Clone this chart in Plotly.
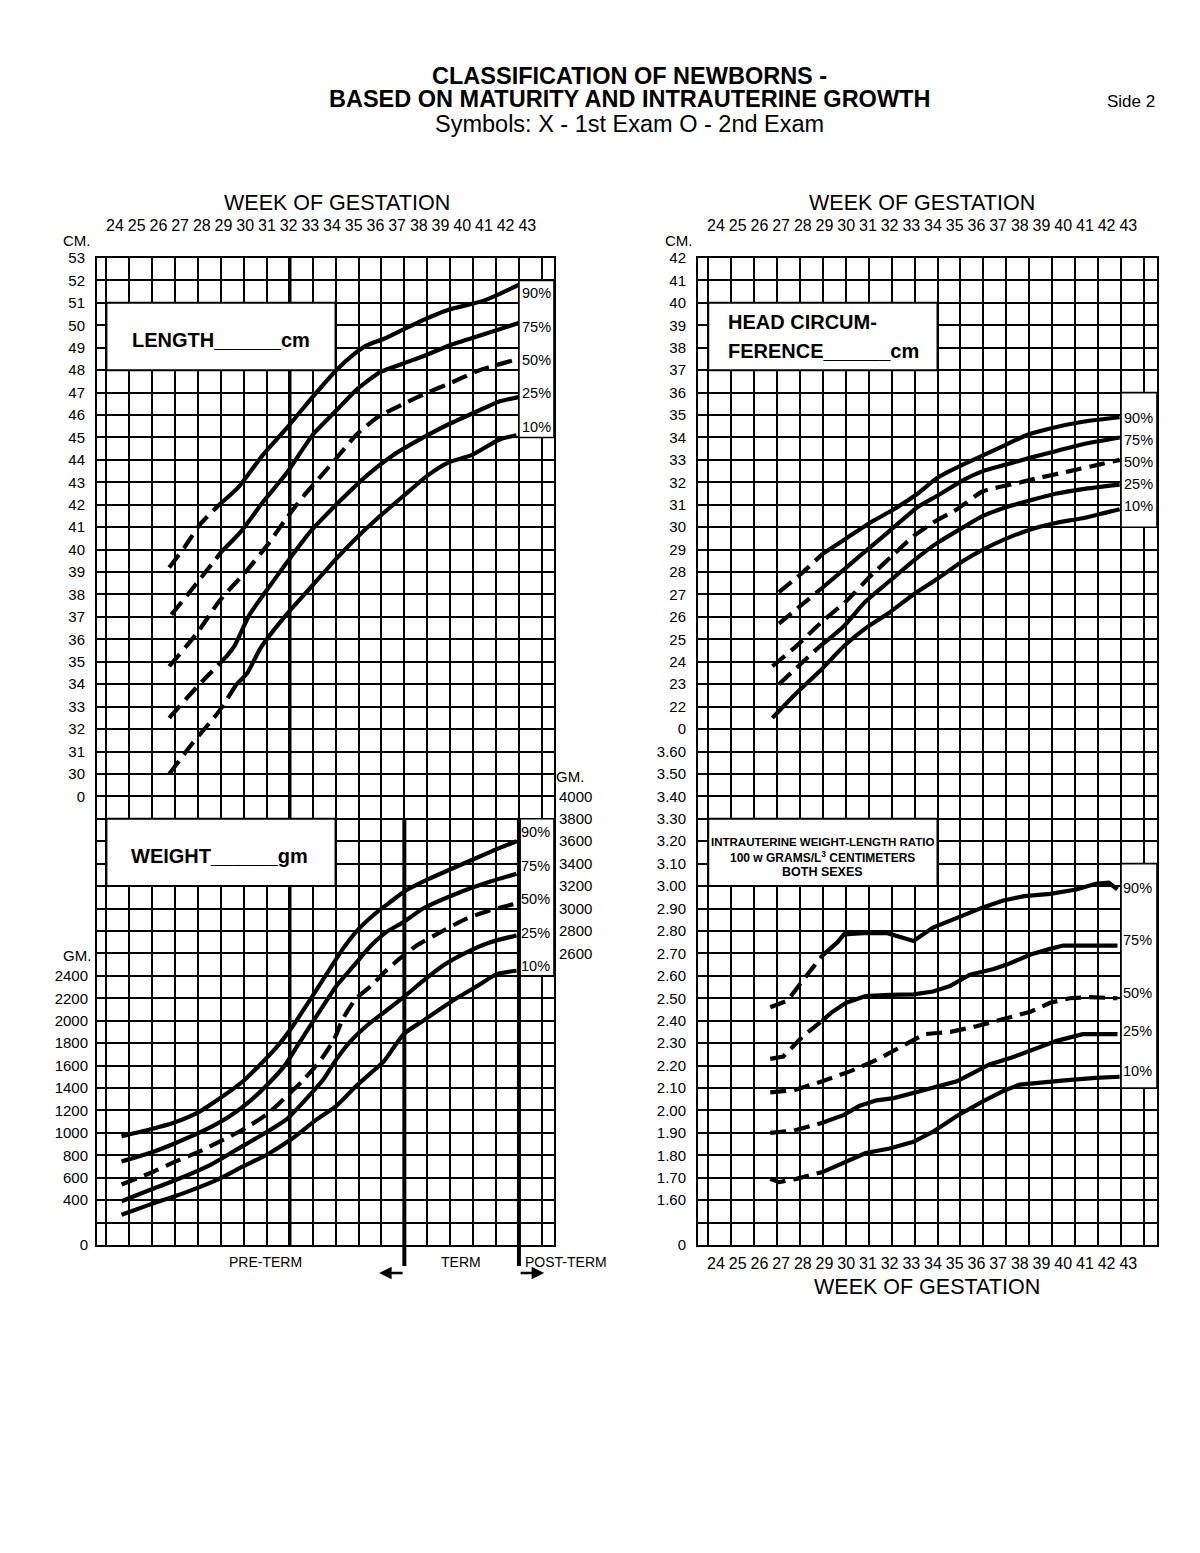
import plotly.graph_objects as go

# ---------------- data ----------------
WEEKS = [24, 25, 26, 27, 28, 29, 30, 31, 32, 33, 34, 35, 36, 37, 38, 39, 40, 41, 42, 43]

# Length (cm) - weeks / values
LEN_90_WK = [26.5, 27.2, 27.9, 28.8, 29.7, 30.8, 31.9, 33.1, 34.2, 35.0, 35.6, 36.4, 37.9, 39.4, 41.0, 42.6]
LEN_90 = [39.2, 40.1, 41.1, 42.0, 42.8, 44.2, 45.4, 46.8, 48.0, 48.7, 49.1, 49.4, 50.1, 50.7, 51.1, 51.8]
LEN_75_WK = [26.6, 27.6, 28.9, 29.8, 30.8, 31.9, 33.1, 34.2, 35.1, 36.2, 37.3, 38.4, 39.4, 41.0, 42.6]
LEN_75 = [37.1, 38.3, 39.9, 40.8, 42.1, 43.4, 45.1, 46.2, 47.1, 47.9, 48.3, 48.7, 49.1, 49.6, 50.1]
LEN_50_WK = [26.5, 27.8, 28.8, 30.1, 31.1, 31.9, 32.7, 33.6, 34.4, 35.1, 36.1, 37.3, 38.4, 39.4, 40.8, 42.6]
LEN_50 = [34.8, 36.3, 37.7, 39.1, 40.3, 41.4, 42.4, 43.4, 44.3, 45.1, 45.9, 46.5, 47.0, 47.4, 48.0, 48.5]
LEN_25_WK = [26.5, 27.8, 29.1, 29.5, 30.2, 31.0, 31.9, 33.0, 34.4, 35.6, 36.8, 38.4, 39.4, 41.0, 41.7, 42.6]
LEN_25 = [32.5, 33.9, 35.2, 35.7, 37.1, 38.2, 39.4, 40.8, 42.2, 43.3, 44.2, 45.1, 45.6, 46.3, 46.6, 46.8]
LEN_10_WK = [26.5, 27.6, 28.8, 29.6, 30.1, 30.7, 31.9, 33.1, 34.2, 35.1, 36.1, 37.3, 38.4, 39.4, 40.4, 41.7, 42.5]
LEN_10 = [30.0, 31.4, 32.8, 34.0, 34.5, 35.6, 37.1, 38.4, 39.6, 40.5, 41.4, 42.4, 43.3, 43.9, 44.2, 44.9, 45.1]

# Weight (gm)
WT_90_WK = [24.3, 25.6, 26.7, 27.9, 29.0, 29.9, 30.8, 31.5, 32.1, 32.7, 33.3, 33.9, 34.5, 35.1, 35.9, 36.7, 37.4, 38.2, 39.7, 41.3, 42.5]
WT_90 = [970, 1030, 1090, 1190, 1330, 1460, 1630, 1775, 1925, 2100, 2280, 2460, 2640, 2790, 2940, 3060, 3160, 3240, 3370, 3505, 3600]
WT_75_WK = [24.3, 25.6, 26.8, 28.2, 29.3, 30.2, 31.1, 31.8, 32.4, 33.0, 33.6, 34.2, 35.0, 35.8, 36.5, 37.3, 38.2, 39.7, 41.3, 42.5]
WT_75 = [745, 820, 910, 1030, 1150, 1280, 1445, 1595, 1775, 1955, 2135, 2310, 2490, 2670, 2790, 2880, 3000, 3130, 3240, 3310]
WT_50_WK = [24.3, 25.6, 26.8, 27.9, 29.0, 29.9, 31.0, 31.9, 32.7, 33.5, 34.1, 34.5, 35.1, 35.8, 36.4, 37.1, 37.9, 39.0, 40.2, 41.3, 42.5]
WT_50 = [540, 640, 745, 835, 940, 1030, 1165, 1325, 1475, 1655, 1835, 2015, 2195, 2310, 2430, 2550, 2670, 2790, 2910, 2985, 3045]
WT_25_WK = [24.3, 25.6, 27.0, 28.4, 29.6, 30.8, 31.9, 32.8, 33.6, 34.2, 34.8, 35.6, 36.4, 37.3, 38.2, 39.1, 40.2, 41.3, 42.5]
WT_25 = [390, 490, 595, 715, 850, 985, 1120, 1300, 1475, 1655, 1805, 1955, 2075, 2210, 2355, 2490, 2610, 2700, 2760]
WT_10_WK = [24.3, 25.6, 27.2, 28.7, 29.9, 31.0, 32.1, 33.3, 34.2, 35.1, 35.8, 36.4, 37.3, 38.2, 39.7, 40.7, 41.6, 42.5]
WT_10 = [270, 360, 465, 580, 700, 805, 940, 1120, 1240, 1415, 1535, 1640, 1880, 2000, 2195, 2310, 2415, 2445]

# Head circumference (cm)
HC_90_WK = [26.9, 27.9, 28.9, 30.0, 31.1, 32.2, 33.3, 34.2, 35.4, 36.3, 37.2, 38.3, 39.4, 40.9, 42.6]
HC_90 = [27.1, 27.9, 28.8, 29.5, 30.2, 30.8, 31.5, 32.2, 32.8, 33.2, 33.6, 34.1, 34.4, 34.7, 34.9]
HC_75_WK = [26.9, 27.9, 28.9, 30.0, 31.1, 32.2, 33.3, 34.2, 35.4, 36.3, 37.4, 38.5, 39.7, 40.9, 42.6]
HC_75 = [25.7, 26.5, 27.3, 28.2, 29.1, 30.0, 30.9, 31.4, 32.1, 32.5, 32.8, 33.1, 33.4, 33.7, 34.0]
HC_50_WK = [26.6, 27.7, 28.9, 30.0, 31.1, 32.2, 33.1, 34.0, 35.1, 36.3, 37.6, 38.9, 40.3, 41.7, 42.6]
HC_50 = [23.8, 24.7, 25.8, 26.7, 27.8, 28.8, 29.6, 30.2, 30.8, 31.6, 31.9, 32.2, 32.5, 32.8, 33.0]
HC_25_WK = [26.9, 27.9, 28.8, 29.9, 30.9, 32.0, 33.1, 34.2, 35.4, 36.3, 37.4, 38.5, 39.7, 40.9, 42.6]
HC_25 = [23.0, 23.9, 24.7, 25.6, 26.7, 27.6, 28.5, 29.3, 30.0, 30.5, 30.9, 31.2, 31.5, 31.7, 31.9]
HC_10_WK = [26.6, 27.7, 28.8, 29.9, 30.9, 32.0, 33.1, 34.2, 35.4, 36.3, 37.4, 38.5, 39.7, 40.9, 42.6]
HC_10 = [21.5, 22.6, 23.6, 24.7, 25.5, 26.2, 27.0, 27.7, 28.5, 29.0, 29.5, 29.9, 30.2, 30.4, 30.8]

# Weight-length ratio (100 w / L^3)
R_90_WK = [26.5, 27.3, 28.0, 28.9, 29.6, 29.9, 30.8, 31.9, 33.1, 34.0, 35.1, 36.3, 37.2, 38.2, 39.4, 40.6, 41.5, 42.1, 42.5]
R_90 = [2.46, 2.49, 2.58, 2.69, 2.75, 2.785, 2.79, 2.79, 2.755, 2.815, 2.86, 2.905, 2.935, 2.955, 2.965, 2.985, 3.01, 3.015, 2.985]
R_75_WK = [26.5, 27.1, 28.0, 28.9, 29.3, 30.0, 30.9, 32.0, 33.1, 34.0, 34.8, 35.7, 36.8, 37.4, 38.5, 39.4, 40.0, 40.9, 42.5]
R_75 = [2.23, 2.24, 2.33, 2.40, 2.435, 2.48, 2.51, 2.515, 2.517, 2.53, 2.555, 2.605, 2.63, 2.65, 2.695, 2.72, 2.735, 2.735, 2.735]
R_50_WK = [26.5, 27.6, 28.9, 30.2, 31.4, 32.5, 33.6, 34.2, 34.8, 36.0, 37.2, 38.5, 39.4, 40.3, 41.2, 42.5]
R_50 = [2.08, 2.09, 2.13, 2.175, 2.225, 2.28, 2.34, 2.345, 2.35, 2.375, 2.405, 2.44, 2.48, 2.50, 2.505, 2.50]
R_25_WK = [26.5, 27.6, 28.9, 29.9, 30.6, 31.4, 32.2, 33.3, 34.2, 35.1, 35.7, 36.6, 37.6, 38.6, 39.7, 40.9, 42.5]
R_25 = [1.90, 1.91, 1.945, 1.98, 2.02, 2.045, 2.055, 2.085, 2.105, 2.13, 2.16, 2.205, 2.235, 2.27, 2.31, 2.34, 2.34]
R_10_WK = [26.5, 26.9, 27.7, 28.9, 29.9, 30.9, 32.0, 33.1, 34.0, 35.1, 36.3, 37.2, 38.0, 38.9, 40.2, 41.5, 42.6]
R_10 = [1.695, 1.68, 1.695, 1.725, 1.77, 1.81, 1.83, 1.86, 1.905, 1.975, 2.04, 2.085, 2.115, 2.125, 2.135, 2.145, 2.15]

PCT_LABELS = ["90%", "75%", "50%", "25%", "10%"]

# axis tick labels
LEN_TICKS = [29, 30, 31, 32, 33, 34, 35, 36, 37, 38, 39, 40, 41, 42, 43, 44, 45, 46, 47, 48, 49, 50, 51, 52, 53]
LEN_TEXT = ["0"] + [str(v) for v in LEN_TICKS[1:]]
WT_LEFT_TICKS = [0, 400, 600, 800, 1000, 1200, 1400, 1600, 1800, 2000, 2200, 2400]
WT_LEFT_TEXT = ["0", "400", "600", "800", "1000", "1200", "1400", "1600", "1800", "2000", "2200", "2400"]
WT_RIGHT_TICKS = [2600, 2800, 3000, 3200, 3400, 3600, 3800, 4000]
WT_RIGHT_TEXT = ["2600", "2800", "3000", "3200", "3400", "3600", "3800", "4000"]
HC_TICKS = [22, 23, 24, 25, 26, 27, 28, 29, 30, 31, 32, 33, 34, 35, 36, 37, 38, 39, 40, 41, 42]
HC_TEXT = [str(v) for v in HC_TICKS]
R_TICKS = [1.4, 1.6, 1.7, 1.8, 1.9, 2.0, 2.1, 2.2, 2.3, 2.4, 2.5, 2.6, 2.7, 2.8, 2.9, 3.0,
           3.1, 3.2, 3.3, 3.4, 3.5, 3.6, 3.7]
R_TEXT = ["0", "1.60", "1.70", "1.80", "1.90", "2.00", "2.10", "2.20", "2.30", "2.40", "2.50",
          "2.60", "2.70", "2.80", "2.90", "3.00", "3.10", "3.20", "3.30", "3.40", "3.50", "3.60", "0"]

# grid column index of the term / post-term divider lines
TERM_COL = 13
POSTTERM_COL = 18

# ---------------- layout helpers ----------------
W, H = 1200, 1553
FONT = "Arial, 'Liberation Sans', Helvetica, sans-serif"
INK = "black"


def px(x):
    return x / W


def py(y):
    return 1 - y / H


Y_DOM = [py(1245), py(258)]
L_DOM = [px(97), px(554)]
R_DOM = [px(698), px(1157)]

fig = go.Figure()


def add_curve(wk, vals, solid_from, xa, ya, spline=True):
    shape = "spline" if spline else "linear"
    if solid_from is None:
        segs = [(wk, vals, "16px,8px")]
    elif solid_from == 0:
        segs = [(wk, vals, "solid")]
    else:
        segs = [(wk[:solid_from + 1], vals[:solid_from + 1], "16px,8px"),
                (wk[solid_from:], vals[solid_from:], "solid")]
    for sx, sy, dash in segs:
        fig.add_trace(go.Scatter(
            x=sx, y=sy, xaxis=xa, yaxis=ya, mode="lines",
            line=dict(color=INK, width=4.2, dash=dash, shape=shape, smoothing=0.6),
            hoverinfo="skip", showlegend=False))


# length (x3 weeks, y3 length)
add_curve(LEN_90_WK, LEN_90, 3, "x3", "y3")
add_curve(LEN_75_WK, LEN_75, 2, "x3", "y3")
add_curve(LEN_50_WK, LEN_50, None, "x3", "y3")
add_curve(LEN_25_WK, LEN_25, 2, "x3", "y3")
add_curve(LEN_10_WK, LEN_10, 3, "x3", "y3")
# weight (x3 weeks, y2 weight)
add_curve(WT_90_WK, WT_90, 0, "x3", "y2")
add_curve(WT_75_WK, WT_75, 0, "x3", "y2")
add_curve(WT_50_WK, WT_50, None, "x3", "y2")
add_curve(WT_25_WK, WT_25, 0, "x3", "y2")
add_curve(WT_10_WK, WT_10, 0, "x3", "y2")
# head circumference (x4 weeks on top, y7 cm)
add_curve(HC_90_WK, HC_90, 2, "x4", "y7")
add_curve(HC_75_WK, HC_75, 2, "x4", "y7")
add_curve(HC_50_WK, HC_50, None, "x4", "y7")
add_curve(HC_25_WK, HC_25, 2, "x4", "y7")
add_curve(HC_10_WK, HC_10, 0, "x4", "y7")
# ratio (x5 weeks at bottom, y6 ratio)
add_curve(R_90_WK, R_90, 3, "x5", "y6", spline=False)
add_curve(R_75_WK, R_75, 3, "x5", "y6", spline=False)
add_curve(R_50_WK, R_50, None, "x5", "y6", spline=False)
add_curve(R_25_WK, R_25, 2, "x5", "y6", spline=False)
add_curve(R_10_WK, R_10, 3, "x5", "y6", spline=False)
# empty trace so that the right-hand gram scale gets its subplot
fig.add_trace(go.Scatter(x=[], y=[], xaxis="x3", yaxis="y4", mode="lines",
                         hoverinfo="skip", showlegend=False))

grid_axis = dict(showgrid=True, gridcolor=INK, gridwidth=1.6, zeroline=False,
                 showticklabels=False, ticks="", showline=True, linecolor=INK,
                 linewidth=2, mirror=True, tick0=0, dtick=1, fixedrange=True,
                 automargin=False)
label_font = dict(family=FONT, size=15, color=INK)
week_font = dict(family=FONT, size=16, color=INK)
clear = "rgba(0,0,0,0)"


def value_axis(**kw):
    d = dict(showgrid=False, zeroline=False, showline=False, ticks="outside",
             tickcolor=clear, tickmode="array", tickfont=label_font, fixedrange=True,
             automargin=False)
    d.update(kw)
    return d


fig.update_layout(
    width=W, height=H, autosize=False,
    margin=dict(l=0, r=0, t=0, b=0, pad=0, autoexpand=False),
    paper_bgcolor="white", plot_bgcolor="white", showlegend=False,
    font=dict(family=FONT, color=INK),
    # left panel grid
    xaxis=dict(grid_axis, domain=L_DOM, range=[-0.41, 19.53], anchor="y"),
    yaxis=dict(grid_axis, domain=Y_DOM, range=[0, 44], anchor="x"),
    xaxis3=value_axis(overlaying="x", anchor="y", side="top", range=[23.1705, 44.2304],
                      tickvals=WEEKS, ticktext=[str(w) for w in WEEKS], ticklen=20,
                      tickfont=week_font),
    yaxis2=value_axis(overlaying="y", anchor="x", side="left", range=[0, 8800],
                      tickvals=WT_LEFT_TICKS, ticktext=WT_LEFT_TEXT, ticklen=5),
    yaxis3=value_axis(overlaying="y", anchor="x", side="left", range=[9, 53],
                      tickvals=LEN_TICKS, ticktext=LEN_TEXT, ticklen=8),
    yaxis4=value_axis(overlaying="y", anchor="x", side="right", range=[0, 8800],
                      tickvals=WT_RIGHT_TICKS, ticktext=WT_RIGHT_TEXT, ticklen=1),
    # right panel grid
    xaxis2=dict(grid_axis, domain=R_DOM, range=[-0.445, 19.57], anchor="y5"),
    yaxis5=dict(grid_axis, domain=Y_DOM, range=[0, 44], anchor="x2"),
    xaxis4=value_axis(overlaying="x2", anchor="y5", side="top", range=[23.1705, 44.3226],
                      tickvals=WEEKS, ticktext=[str(w) for w in WEEKS], ticklen=20,
                      tickfont=week_font),
    xaxis5=value_axis(overlaying="x2", anchor="y5", side="bottom", range=[23.1705, 44.3226],
                      tickvals=WEEKS, ticktext=[str(w) for w in WEEKS], ticklen=4,
                      tickfont=week_font),
    yaxis6=value_axis(overlaying="y5", anchor="x2", side="left", range=[1.4, 5.8],
                      tickvals=R_TICKS, ticktext=R_TEXT, ticklen=8),
    yaxis7=value_axis(overlaying="y5", anchor="x2", side="left", range=[-2, 42],
                      tickvals=HC_TICKS, ticktext=HC_TEXT, ticklen=8),
)

# ---------------- decorations ----------------
shapes = []
# heavier grid line in the left panel
shapes.append(dict(type="line", xref="x", yref="y", x0=8, x1=8, y0=0, y1=44,
                   line=dict(color=INK, width=3.5), layer="above"))


def box(xref, yref, x0, x1, y0, y1, lw=2):
    shapes.append(dict(type="rect", xref=xref, yref=yref, x0=x0, x1=x1, y0=y0, y1=y1,
                       fillcolor="white", line=dict(color=INK, width=lw), layer="above"))


box("x", "y", 0, 10, 39, 42)          # LENGTH
box("x", "y", 0, 10, 16, 19)          # WEIGHT
box("x", "y", 18, 19.53, 36, 43, 1.6)  # length % labels
box("x", "y", 18, 19.53, 12, 19, 1.6)  # weight % labels
box("x2", "y5", 0, 10, 39, 42)        # HEAD CIRCUMFERENCE
box("x2", "y5", 0, 10, 16, 19)        # RATIO
box("x2", "y5", 18, 19.57, 32, 38, 1.6)
box("x2", "y5", 18, 19.57, 7, 17, 1.6)

# term / post-term lines
for c in (TERM_COL, POSTTERM_COL):
    shapes.append(dict(type="line", xref="x", yref="paper", x0=c, x1=c,
                       y0=py(1266), y1=py(819), line=dict(color=INK, width=4), layer="above"))

fig.update_layout(shapes=shapes)

ann = []


def text(s, x, y, size, xanchor="center", yanchor="middle"):
    ann.append(dict(text=s, x=px(x), y=py(y), xref="paper", yref="paper", showarrow=False,
                    xanchor=xanchor, yanchor=yanchor,
                    font=dict(family=FONT, size=size, color=INK)))


text("<b>CLASSIFICATION OF NEWBORNS -</b>", 629, 76, 23.5)
text("<b>BASED ON MATURITY AND INTRAUTERINE GROWTH</b>", 629, 99, 23.5)
text("Symbols: X - 1st Exam O - 2nd Exam", 629, 124, 23.5)
text("Side 2", 1131, 101, 17)
text("WEEK OF GESTATION", 337, 203, 21.5)
text("WEEK OF GESTATION", 922, 203, 21.5)
text("WEEK OF GESTATION", 927, 1287, 21.5)
text("CM.", 77, 240, 15)
text("CM.", 679, 240, 15)
text("GM.", 570, 776, 15)
text("GM.", 77, 955, 15)

text("<b>LENGTH______cm</b>", 221, 340, 20)
text("<b>WEIGHT______gm</b>", 219, 856, 20)
text("<b>HEAD CIRCUM-</b>", 726, 322, 20, xanchor="left")
text("<b>FERENCE______cm</b>", 726, 351, 20, xanchor="left")
text("<b>INTRAUTERINE WEIGHT-LENGTH RATIO</b>", 822, 842, 11.5)
text("<b>100 w GRAMS/L<sup>3</sup> CENTIMETERS</b>", 822, 857, 12)
text("<b>BOTH SEXES</b>", 822, 872, 12.5)

for lab, y in zip(PCT_LABELS, [293, 327, 360, 393, 427]):
    text(lab, 536, y, 14.5)
for lab, y in zip(PCT_LABELS, [832, 866, 899, 933, 966]):
    text(lab, 535, y, 14.5)
for lab, y in zip(PCT_LABELS, [418, 440, 462, 484, 506]):
    text(lab, 1138, y, 14.5)
for lab, y in zip(PCT_LABELS, [888, 940, 993, 1031, 1071]):
    text(lab, 1137, y, 14.5)

text("PRE-TERM", 265, 1262, 14)
text("TERM", 461, 1262, 14)
text("POST-TERM", 566, 1262, 14)

# arrows at the bottom of the term lines
ann.append(dict(x=TERM_COL - 1.1, y=py(1273), xref="x", yref="paper", ax=25, ay=0,
                showarrow=True, arrowhead=2, arrowsize=1, arrowwidth=2.5, arrowcolor=INK, text=""))
ann.append(dict(x=POSTTERM_COL + 1.1, y=py(1273), xref="x", yref="paper", ax=-25, ay=0,
                showarrow=True, arrowhead=2, arrowsize=1, arrowwidth=2.5, arrowcolor=INK, text=""))

fig.update_layout(annotations=ann)

fig.write_html("out.html")
